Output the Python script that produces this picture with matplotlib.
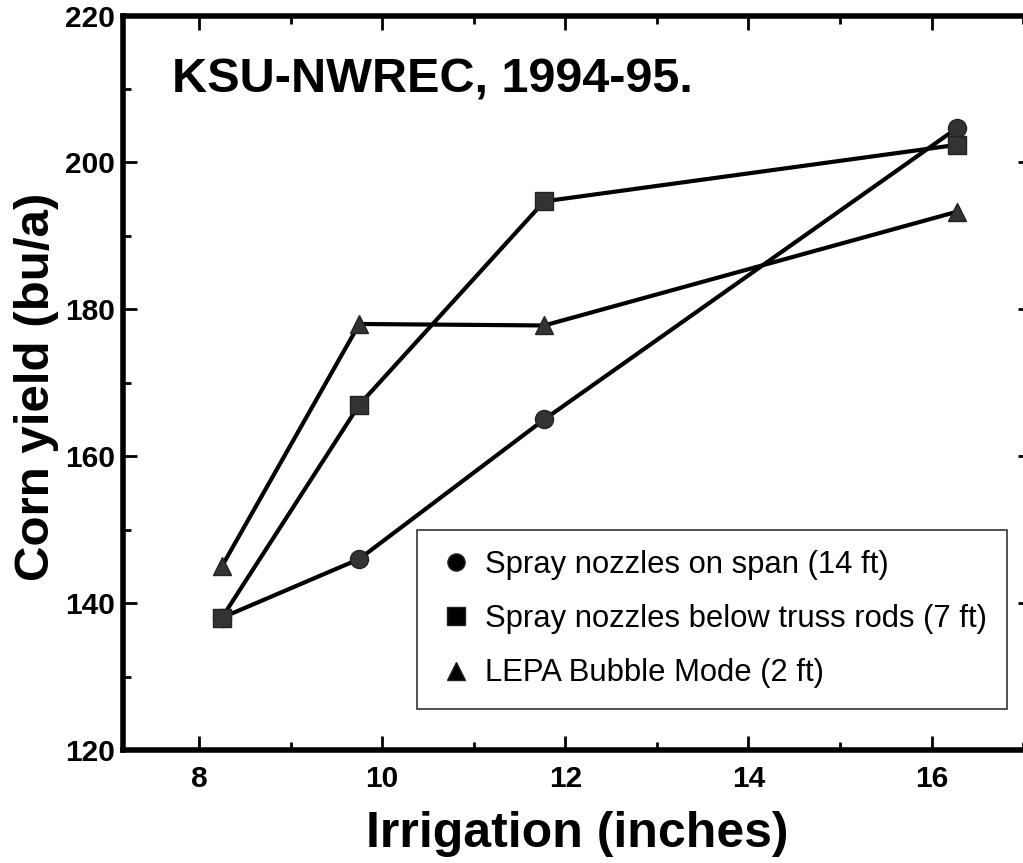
import matplotlib
matplotlib.use("Agg")
import matplotlib.pyplot as plt
from matplotlib.ticker import MultipleLocator

plt.rcParams['font.family'] = ['Liberation Sans', 'DejaVu Sans']

irrigation = [8.25, 9.75, 11.77, 16.28]
spray_span = [138, 146, 165, 204.7]
spray_truss = [138, 167, 194.7, 202.4]
lepa = [145, 178, 177.8, 193.3]
labels = ["Spray nozzles on span (14 ft)",
          "Spray nozzles below truss rods (7 ft)",
          "LEPA Bubble Mode (2 ft)"]
xticks = [8, 10, 12, 14, 16]
yticks = [120, 140, 160, 180, 200, 220]

fig = plt.figure(figsize=(10.23, 8.63), dpi=100)
ax = fig.add_axes([0.1202, 0.131, 0.889, 0.851])

mk = dict(color='black', lw=3, markersize=13, markerfacecolor='#333333',
          markeredgecolor='#222222', clip_on=False)
ax.plot(irrigation, spray_span, marker='o', label=labels[0], **mk)
ax.plot(irrigation, spray_truss, marker='s', label=labels[1], **mk)
ax.plot(irrigation, lepa, marker='^', label=labels[2], **mk)

ax.set_xlim(7.17, 17.1)
ax.set_ylim(120, 220)
ax.set_xticks(xticks)
ax.set_yticks(yticks)
ax.xaxis.set_minor_locator(MultipleLocator(1))
ax.yaxis.set_minor_locator(MultipleLocator(10))
ax.tick_params(which='both', direction='in', top=True, right=True, width=2)
ax.tick_params(which='major', length=10, labelsize=21.5, pad=11)
ax.tick_params(axis='y', which='major', pad=6)
ax.tick_params(which='minor', length=6)
for lab in ax.get_xticklabels() + ax.get_yticklabels():
    lab.set_fontweight('bold')
for s in ax.spines.values():
    s.set_linewidth(4)

ax.set_xlabel("Irrigation (inches)", fontsize=36, fontweight='bold', labelpad=13)
ax.set_ylabel("Corn yield (bu/a)", fontsize=35.5, fontweight='bold')
ax.yaxis.set_label_coords(-0.0705, 0.4945)

ax.text(0.054, 0.912, "KSU-NWREC, 1994-95.", transform=ax.transAxes,
        fontsize=35, fontweight='bold', ha='left', va='center')

leg = ax.legend(loc='lower left', bbox_to_anchor=(0.3234, 0.056), fontsize=22.3,
                frameon=True, fancybox=False, edgecolor='black',
                handlelength=1.2, handletextpad=0.32, labelspacing=0.78,
                borderpad=0.66, borderaxespad=0, markerscale=0.95)
leg.get_frame().set_linewidth(1.2)
for h in leg.legend_handles:
    h.set_linestyle('None')
    h.set_markerfacecolor('black')

fig.savefig("out.png", dpi=100)
